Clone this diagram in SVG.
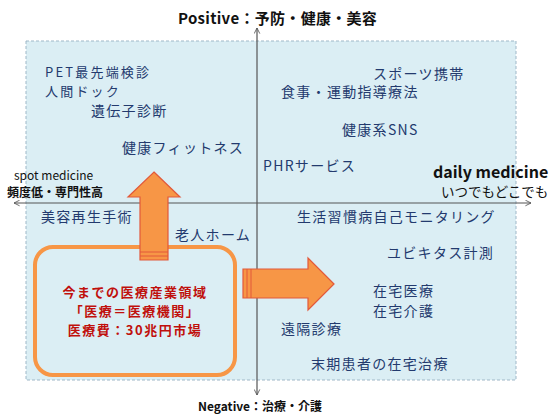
<svg xmlns="http://www.w3.org/2000/svg" width="555" height="415" viewBox="0 0 555 415">
<style>
.item{font-family:"Noto Sans CJK JP","Liberation Sans",sans-serif;font-size:14px;fill:#233a6e;letter-spacing:1.3px}
.tight{font-size:13px;letter-spacing:2.2px}
.red{font-family:"Noto Sans CJK JP","Liberation Sans",sans-serif;font-size:13px;font-weight:bold;fill:#c0100c;text-anchor:middle;letter-spacing:1.5px}
.ax{font-family:"Noto Sans CJK JP","Liberation Sans",sans-serif;fill:#111}
.axis{stroke:#555;stroke-width:1.2;fill:none}
.blk{fill:#f79646;stroke:#e2593a;stroke-width:1.2}
</style>
<defs>
<marker id="ah" viewBox="0 0 10 10" refX="9" refY="5" markerWidth="7" markerHeight="7" orient="auto-start-reverse" markerUnits="userSpaceOnUse">
<path d="M1,1 L9,5 L1,9" fill="none" stroke="#555" stroke-width="1.2"/>
</marker>
</defs>
<rect x="0" y="0" width="555" height="415" fill="#ffffff"/>
<rect id="bg" x="26" y="41" width="490" height="339" fill="#dbeef4" stroke="#9fb8c8" stroke-width="1" stroke-dasharray="3,2"/>
<g id="connectors">
<line class="axis" x1="257" y1="395" x2="257" y2="28" marker-start="url(#ah)" marker-end="url(#ah)"/>
<line class="axis" x1="531" y1="203" x2="14" y2="203" marker-start="url(#ah)" marker-end="url(#ah)"/>
</g>
<g id="current-domain">
<rect x="35" y="247" width="200" height="128" rx="18" ry="18" fill="none" stroke="#f79646" stroke-width="4"/>
<text class="red" x="135" y="297">今までの医療産業領域</text>
<text class="red" x="135" y="316">「医療＝医療機関」</text>
<text class="red" x="135" y="335">医療費：30兆円市場</text>
</g>
<g id="arrow-up">
<path class="blk" d="M154,172 L180,197 L168,197 L168,260 L140,260 L140,197 L128,197 Z"/>
<line x1="140" y1="252" x2="168" y2="252" stroke="#e2593a" stroke-width="1"/>
<line x1="140" y1="256" x2="168" y2="256" stroke="#e2593a" stroke-width="1"/>
</g>
<g id="arrow-right">
<path class="blk" d="M334,284 L308,258 L308,269 L243,269 L243,298 L308,298 L308,310 Z"/>
<line x1="247" y1="269" x2="247" y2="298" stroke="#e2593a" stroke-width="1"/>
<line x1="251" y1="269" x2="251" y2="298" stroke="#e2593a" stroke-width="1"/>
</g>
<g id="axis-labels">
<text class="ax" x="178" y="24" font-size="15" font-weight="bold" letter-spacing="0.3">Positive：予防・健康・美容</text>
<text class="ax" x="198" y="411" font-size="12" font-weight="bold">Negative：治療・介護</text>
<text class="ax" x="14" y="180" font-size="12" fill="#333">spot medicine</text>
<text class="ax" x="7" y="197" font-size="12" font-weight="bold" fill="#222">頻度低・専門性高</text>
<text class="ax" x="433" y="178" font-size="16" font-weight="bold">daily medicine</text>
<text class="ax" x="441" y="197" font-size="13.5">いつでもどこでも</text>
</g>
<g id="n-pet"><text class="item tight" x="45" y="77">PET最先端検診</text></g>
<g id="n-dock"><text class="item tight" x="45" y="96">人間ドック</text></g>
<g id="n-gene"><text class="item" x="91" y="116">遺伝子診断</text></g>
<g id="n-fitness"><text class="item" x="122" y="153">健康フィットネス</text></g>
<g id="n-sports"><text class="item" x="373" y="79">スポーツ携帯</text></g>
<g id="n-diet"><text class="item" x="281" y="97">食事・運動指導療法</text></g>
<g id="n-sns"><text class="item" x="342" y="135">健康系SNS</text></g>
<g id="n-phr"><text class="item" x="263" y="171">PHRサービス</text></g>
<g id="n-beauty"><text class="item" x="41" y="222">美容再生手術</text></g>
<g id="n-elderly"><text class="item" x="175" y="240">老人ホーム</text></g>
<g id="n-monitor"><text class="item" x="297" y="222">生活習慣病自己モニタリング</text></g>
<g id="n-ubiq"><text class="item" x="387" y="258">ユビキタス計測</text></g>
<g id="n-home"><text class="item" x="373" y="296">在宅医療</text><text class="item" x="373" y="316">在宅介護</text></g>
<g id="n-remote"><text class="item" x="281" y="334">遠隔診療</text></g>
<g id="n-terminal"><text class="item" x="311" y="369">末期患者の在宅治療</text></g>
</svg>
